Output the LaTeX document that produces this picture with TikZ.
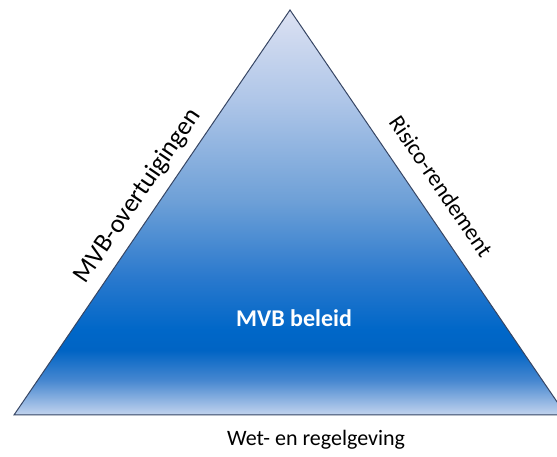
\documentclass[tikz,border=0pt]{standalone}
\usepackage{fontspec}
\setmainfont{Carlito}
\definecolor{edgec}{RGB}{55,70,100}
\definecolor{sA}{RGB}{195,212,238}
\definecolor{sB}{RGB}{70,135,208}
\definecolor{sC}{RGB}{0,100,196}
\definecolor{sD}{RGB}{0,103,200}
\definecolor{sE}{RGB}{40,120,205}
\definecolor{sF}{RGB}{110,160,215}
\definecolor{sG}{RGB}{175,198,232}
\definecolor{sH}{RGB}{220,225,242}
\pgfdeclareverticalshading{tri}{100bp}{color(0bp)=(sA); color(25bp)=(sA); color(29.3bp)=(sB); color(33bp)=(sC); color(35.5bp)=(sD); color(41.7bp)=(sE); color(51.5bp)=(sF); color(63.9bp)=(sG); color(75bp)=(sH); color(100bp)=(sH)}
\tikzset{
  sidelabel/.style={text=black, inner sep=0pt},
  centerlabel/.style={font=\fontsize{24}{28}\selectfont\bfseries, text=white, inner sep=0pt},
}
\begin{document}
\begin{tikzpicture}[x=1pt,y=1pt]
\useasboundingbox (0,0) rectangle (557,457);
\clip (0,0) rectangle (557,457);
\coordinate (apex) at (290,447);
\coordinate (bl) at (14,42);
\coordinate (br) at (566,42);
\shade[shading=tri, draw=edgec, line width=1pt, line join=miter] (apex) -- (bl) -- (br) -- cycle;
\node[sidelabel, font=\fontsize{26}{30}\selectfont, rotate=55.7] (overt) at (138,261) {MVB-overtuigingen};
\node[sidelabel, font=\fontsize{23}{27}\selectfont, rotate=-55.7] (risico) at (441,271) {Risico-rendement};
\node[centerlabel] (beleid) at (294,139) {MVB beleid};
\node[sidelabel, font=\fontsize{22}{26}\selectfont] (wet) at (316,17) {Wet- en regelgeving};
\end{tikzpicture}
\end{document}
